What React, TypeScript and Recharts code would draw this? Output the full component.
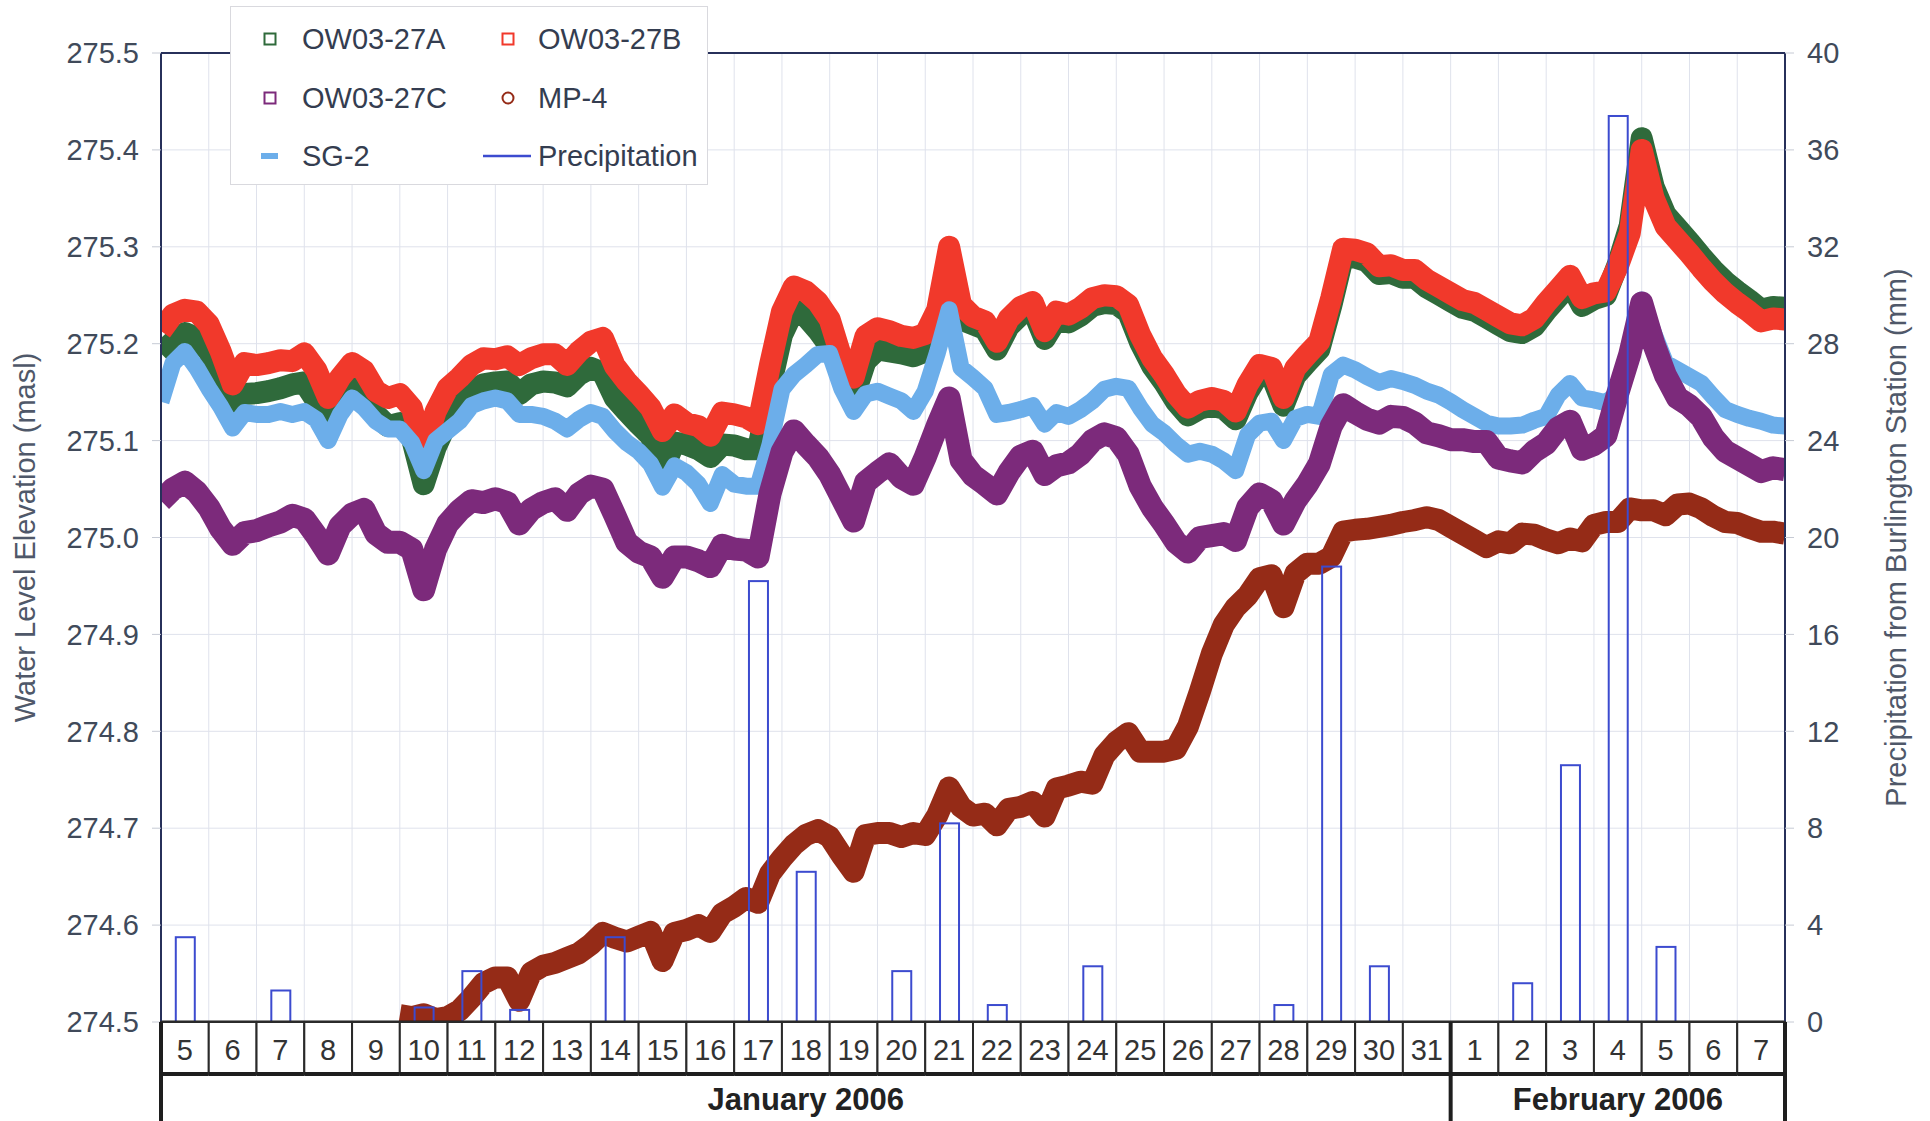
import React from 'react';
import { ComposedChart, Line, Bar, XAxis, YAxis, CartesianGrid, Legend, ReferenceLine } from 'recharts';

// ---------- data ----------
// sample times, days after 5 Jan 2006 00:00
const times = [
  0, 0.25, 0.5, 0.75, 1, 1.25, 1.5, 1.75, 2, 2.25, 2.5, 2.75, 3, 3.25, 3.5, 3.75,
  4, 4.25, 4.5, 4.75, 5, 5.25, 5.5, 5.75, 6, 6.25, 6.5, 6.75, 7, 7.25, 7.5, 7.75,
  8, 8.25, 8.5, 8.75, 9, 9.25, 9.5, 9.75, 10, 10.25, 10.5, 10.75, 11, 11.25, 11.5, 11.75,
  12, 12.25, 12.5, 12.75, 13, 13.25, 13.5, 13.75, 14, 14.25, 14.5, 14.75, 15, 15.25, 15.5, 15.75,
  16, 16.25, 16.5, 16.75, 17, 17.25, 17.5, 17.75, 18, 18.25, 18.5, 18.75, 19, 19.25, 19.5, 19.75,
  20, 20.25, 20.5, 20.75, 21, 21.25, 21.5, 21.75, 22, 22.25, 22.5, 22.75, 23, 23.25, 23.5, 23.75,
  24, 24.25, 24.5, 24.75, 25, 25.25, 25.5, 25.75, 26, 26.25, 26.5, 26.75, 27, 27.25, 27.5, 27.75,
  28, 28.25, 28.5, 28.75, 29, 29.25, 29.5, 29.75, 30, 30.25, 30.5, 30.75, 31, 31.25, 31.5, 31.75,
  32, 32.25, 32.5, 32.75, 33, 33.25, 33.5, 33.75, 34,
];

const ow27A = [
  275.19, 275.202, 275.211, 275.206, 275.192, 275.158, 275.124, 275.148,
  275.149, 275.151, 275.154, 275.158, 275.16, 275.141, 275.113, 275.144,
  275.154, 275.141, 275.127, 275.115, 275.118, 275.103, 275.055, 275.093,
  275.12, 275.137, 275.151, 275.158, 275.16, 275.161, 275.148, 275.158,
  275.161, 275.16, 275.156, 275.168, 275.175, 275.17, 275.144, 275.13,
  275.117, 275.105, 275.069, 275.098, 275.096, 275.091, 275.083, 275.096,
  275.095, 275.091, 275.091, 275.154, 275.209, 275.235, 275.228, 275.214,
  275.197, 275.168, 275.144, 275.182, 275.194, 275.192, 275.19, 275.187,
  275.192, 275.215, 275.265, 275.225, 275.22, 275.215, 275.194, 275.218,
  275.23, 275.235, 275.205, 275.225, 275.222, 275.229, 275.239, 275.242,
  275.241, 275.232, 275.201, 275.177, 275.16, 275.14, 275.126, 275.133,
  275.136, 275.133, 275.122, 275.15, 275.17, 275.167, 275.136, 275.167,
  275.181, 275.194, 275.239, 275.29, 275.289, 275.285, 275.272, 275.273,
  275.268, 275.268, 275.258, 275.251, 275.244, 275.237, 275.234, 275.227,
  275.22, 275.213, 275.211, 275.218, 275.234, 275.248, 275.262, 275.239,
  275.246, 275.25, 275.282, 275.322, 275.412, 275.362, 275.333, 275.319,
  275.305, 275.29, 275.276, 275.264, 275.254, 275.245, 275.235, 275.238,
  275.237,
];

const ow27B = [
  275.213, 275.23, 275.235, 275.233, 275.22, 275.192, 275.158, 275.18,
  275.178, 275.18, 275.183, 275.182, 275.19, 275.173, 275.144, 275.165,
  275.18, 275.172, 275.151, 275.144, 275.148, 275.134, 275.09, 275.13,
  275.154, 275.165, 275.178, 275.185, 275.184, 275.187, 275.178, 275.185,
  275.189, 275.189, 275.178, 275.192, 275.202, 275.206, 275.177, 275.161,
  275.148, 275.134, 275.11, 275.127, 275.118, 275.115, 275.105, 275.129,
  275.127, 275.124, 275.117, 275.178, 275.233, 275.259, 275.254, 275.243,
  275.225, 275.185, 275.165, 275.208, 275.216, 275.213, 275.208, 275.206,
  275.21, 275.235, 275.3, 275.24, 275.228, 275.223, 275.202, 275.226,
  275.238, 275.243, 275.213, 275.233, 275.23, 275.237, 275.247, 275.25,
  275.249, 275.24, 275.209, 275.185, 275.168, 275.148, 275.134, 275.141,
  275.144, 275.141, 275.13, 275.158, 275.178, 275.175, 275.144, 275.175,
  275.189, 275.202, 275.247, 275.298, 275.297, 275.293, 275.28, 275.281,
  275.276, 275.276, 275.266, 275.259, 275.252, 275.245, 275.242, 275.235,
  275.228, 275.221, 275.219, 275.226, 275.242, 275.256, 275.27, 275.247,
  275.252, 275.254, 275.28, 275.314, 275.4, 275.35, 275.321, 275.307,
  275.293, 275.278, 275.264, 275.252, 275.242, 275.233, 275.223, 275.226,
  275.225,
];

const ow27C = [
  275.038, 275.05, 275.057, 275.047, 275.031, 275.009, 274.993, 275.005,
  275.007, 275.012, 275.016, 275.023, 275.019, 275.002, 274.983, 275.012,
  275.024, 275.029, 275.004, 274.995, 274.995, 274.988, 274.946, 274.988,
  275.014, 275.028, 275.038, 275.036, 275.04, 275.036, 275.014, 275.029,
  275.036, 275.04, 275.028, 275.045, 275.053, 275.05, 275.023, 274.995,
  274.985, 274.98, 274.959, 274.98, 274.98, 274.976, 274.97, 274.992,
  274.988, 274.987, 274.98, 275.045, 275.088, 275.11, 275.096, 275.083,
  275.065, 275.041, 275.017, 275.057, 275.067, 275.076, 275.062, 275.055,
  275.083, 275.115, 275.144, 275.08, 275.064, 275.055, 275.045, 275.067,
  275.084, 275.089, 275.065, 275.074, 275.077, 275.086, 275.1, 275.107,
  275.103, 275.086, 275.053, 275.031, 275.014, 274.995, 274.985, 275.0,
  275.002, 275.004, 274.997, 275.031, 275.045, 275.038, 275.014, 275.038,
  275.055, 275.076, 275.115, 275.137, 275.129, 275.122, 275.118, 275.125,
  275.124, 275.118, 275.108, 275.105, 275.101, 275.101, 275.099, 275.099,
  275.082, 275.079, 275.077, 275.089, 275.097, 275.113, 275.12, 275.091,
  275.096, 275.105, 275.149, 275.189, 275.242, 275.2, 275.167, 275.144,
  275.136, 275.124, 275.103, 275.089, 275.082, 275.075, 275.068, 275.072,
  275.07,
];

const mp4 = [
  null, null, null, null, null, null, null, null,
  null, null, null, null, null, null, null, null,
  null, null, null, null, 274.507, 274.505, 274.508, 274.503,
  274.505, 274.512, 274.525, 274.54, 274.546, 274.546, 274.522, 274.551,
  274.558, 274.561, 274.566, 274.571, 274.58, 274.592, 274.587, 274.583,
  274.588, 274.593, 274.563, 274.592, 274.595, 274.6, 274.593, 274.612,
  274.619, 274.628, 274.623, 274.653, 274.669, 274.683, 274.693, 274.698,
  274.691, 274.672, 274.655, 274.693, 274.695, 274.695, 274.691, 274.695,
  274.693, 274.713, 274.742, 274.722, 274.713, 274.715, 274.703, 274.72,
  274.722, 274.727, 274.712, 274.741, 274.744, 274.748, 274.746, 274.775,
  274.789, 274.798, 274.779, 274.779, 274.779, 274.782, 274.805, 274.841,
  274.88, 274.91, 274.928, 274.94, 274.958, 274.961, 274.928, 274.963,
  274.973, 274.973, 274.98, 275.006, 275.008, 275.009, 275.011, 275.013,
  275.016, 275.018, 275.021, 275.018, 275.011, 275.004, 274.997, 274.99,
  274.996, 274.994, 275.004, 275.003, 274.998, 274.994, 274.999, 274.996,
  275.013, 275.016, 275.016, 275.03, 275.028, 275.028, 275.023, 275.034,
  275.035, 275.03, 275.022, 275.016, 275.015, 275.01, 275.006, 275.006,
  275.004,
];

const sg2 = [
  275.14, 275.18, 275.192, 275.175, 275.154, 275.135, 275.113, 275.129,
  275.127, 275.127, 275.13, 275.127, 275.13, 275.122, 275.1, 275.127,
  275.144, 275.134, 275.12, 275.112, 275.112, 275.098, 275.069, 275.1,
  275.11, 275.12, 275.136, 275.141, 275.144, 275.141, 275.127, 275.127,
  275.125, 275.12, 275.112, 275.122, 275.129, 275.125, 275.11, 275.098,
  275.089, 275.076, 275.052, 275.074, 275.067, 275.055, 275.035, 275.065,
  275.055, 275.053, 275.053, 275.096, 275.153, 275.168, 275.178, 275.189,
  275.19, 275.154, 275.13, 275.148, 275.151, 275.146, 275.141, 275.13,
  275.151, 275.19, 275.235, 275.175, 275.165, 275.154, 275.127, 275.129,
  275.132, 275.136, 275.117, 275.129, 275.125, 275.132, 275.141, 275.153,
  275.156, 275.154, 275.134, 275.117, 275.108, 275.096, 275.086, 275.089,
  275.086, 275.079, 275.069, 275.106, 275.118, 275.12, 275.1, 275.123,
  275.127, 275.125, 275.168, 275.178, 275.173, 275.166, 275.16, 275.164,
  275.161, 275.157, 275.151, 275.147, 275.14, 275.132, 275.125, 275.118,
  275.115, 275.115, 275.116, 275.121, 275.125, 275.147, 275.159, 275.144,
  275.142, 275.139, 275.149, 275.18, 275.245, 275.211, 275.18, 275.173,
  275.166, 275.159, 275.145, 275.132, 275.127, 275.123, 275.12, 275.116,
  275.115,
];

// daily precipitation (mm), Burlington Station; day index after 5 Jan
const precipDay = [0, 2, 5, 6, 7, 9, 12, 13, 15, 16, 17, 19, 23, 24, 25, 28, 29, 30, 31];
const precipMm = [3.5, 1.3, 0.6, 2.1, 0.5, 3.5, 18.2, 6.2, 2.1, 8.2, 0.7, 2.3, 0.7, 18.8, 2.3, 1.6, 10.6, 37.4, 3.1];

const dayLabels = [
  '5', '6', '7', '8', '9', '10', '11', '12', '13', '14', '15', '16', '17', '18', '19', '20',
  '21', '22', '23', '24', '25', '26', '27', '28', '29', '30', '31',
  '1', '2', '3', '4', '5', '6', '7',
];
const dayTicks = [0, 1, 2, 3, 4, 5, 6, 7, 8, 9, 10, 11, 12, 13, 14, 15, 16, 17, 18, 19, 20, 21, 22, 23, 24, 25, 26, 27, 28, 29, 30, 31, 32, 33];
const months = [
  { label: 'January 2006', first: 0, last: 26 },
  { label: 'February 2006', first: 27, last: 33 },
];
const leftTicks = [274.5, 274.6, 274.7, 274.8, 274.9, 275.0, 275.1, 275.2, 275.3, 275.4, 275.5];
const rightTicks = [0, 4, 8, 12, 16, 20, 24, 28, 32, 36, 40];

const rows = times.map((t, i) => {
  const k = precipDay.findIndex((d) => d + 0.5 === t);
  return {
    t,
    A: ow27A[i],
    B: ow27B[i],
    C: ow27C[i],
    MP4: mp4[i],
    SG2: sg2[i],
    P: k >= 0 ? precipMm[k] : null,
  };
});

// ---------- styles ----------
const FONT = '"Liberation Sans", Arial, Helvetica, sans-serif';
const COL_A = '#2f6a3b';
const COL_B = '#f1392b';
const COL_C = '#7c2a7b';
const COL_MP = '#952b17';
const COL_SG = '#6caeea';
const COL_P = '#3c4bcf';
const AXIS_COL = '#27305a';
const TEXT_COL = '#404a5a';

const PLOT_LEFT = 161;
const PLOT_RIGHT = 1785;
const DAY_W = (PLOT_RIGHT - PLOT_LEFT) / 34;
const DAY_ROW_H = 52;
const XAXIS_H = 111;
const BAR_W = 19;

const DayTick = (props: any) => {
  const { x, y, payload } = props;
  const idx = Number(payload.value);
  const label = dayLabels[idx];
  const month = months.find((m) => idx >= m.first && idx <= m.last);
  const mid = month ? (month.first + month.last + 1) / 2 : -1;
  const showMonth = month && Math.floor(mid - 0.5) === idx;
  const isMonthStart = month && month.first === idx;
  const isLast = idx === dayLabels.length - 1;
  return (
    <g>
      <rect x={x} y={y} width={DAY_W} height={DAY_ROW_H} fill="#ffffff" stroke="#2a2a2a" strokeWidth={2} />
      <text
        x={x + DAY_W / 2}
        y={y + 28}
        textAnchor="middle"
        dominantBaseline="central"
        fontSize={29}
        fontFamily={FONT}
        fill="#333333"
      >
        {label}
      </text>
      <line x1={x} x2={x + DAY_W} y1={y + DAY_ROW_H} y2={y + DAY_ROW_H} stroke="#1e1e1e" strokeWidth={4} />
      {isMonthStart && <line x1={x} x2={x} y1={y} y2={y + XAXIS_H} stroke="#1e1e1e" strokeWidth={4} />}
      {isLast && <line x1={x + DAY_W} x2={x + DAY_W} y1={y} y2={y + XAXIS_H} stroke="#1e1e1e" strokeWidth={4} />}
      {showMonth && month && (
        <text
          x={x + DAY_W / 2 + (mid - idx - 0.5) * DAY_W}
          y={y + 77}
          textAnchor="middle"
          dominantBaseline="central"
          fontSize={31}
          fontWeight="bold"
          fontFamily={FONT}
          fill="#222222"
        >
          {month.label}
        </text>
      )}
    </g>
  );
};

// precipitation bar: keeps the library's x/y/height, draws a fixed-width outlined column
const PrecipBar = (p: any) => {
  if (!p || !p.height || p.height <= 0) return <g />;
  const cx = p.x + p.width / 2;
  return (
    <rect x={cx - BAR_W / 2} y={p.y} width={BAR_W} height={p.height} fill="none" stroke={COL_P} strokeWidth={2} />
  );
};

const legendItems = [
  { name: 'OW03-27A', color: COL_A, shape: 'square' },
  { name: 'OW03-27B', color: COL_B, shape: 'square' },
  { name: 'OW03-27C', color: COL_C, shape: 'square' },
  { name: 'MP-4', color: COL_MP, shape: 'circle' },
  { name: 'SG-2', color: COL_SG, shape: 'dash' },
  { name: 'Precipitation', color: COL_P, shape: 'line' },
];

const LegendBox = () => (
  <div
    style={{
      position: 'relative',
      width: 478,
      height: 179,
      background: '#ffffff',
      border: '1px solid #d9d9de',
      boxSizing: 'border-box',
      fontFamily: FONT,
    }}
  >
    {legendItems.map((it, i) => {
      const col = i % 2;
      const row = Math.floor(i / 2);
      const cy = [32, 91, 149][row];
      const mx = col === 0 ? 39 : 277;
      const tx = col === 0 ? 71 : 307;
      return (
        <React.Fragment key={it.name}>
          <svg style={{ position: 'absolute', left: 0, top: 0, overflow: 'visible' }} width={1} height={1}>
            {it.shape === 'square' && (
              <rect x={mx - 5.5} y={cy - 5.5} width={11} height={11} fill="none" stroke={it.color} strokeWidth={2} />
            )}
            {it.shape === 'circle' && <circle cx={mx} cy={cy} r={5.5} fill="none" stroke={it.color} strokeWidth={2} />}
            {it.shape === 'dash' && <rect x={mx - 9} y={cy - 3} width={17} height={6} fill={it.color} />}
            {it.shape === 'line' && <line x1={252} x2={300} y1={cy} y2={cy} stroke={it.color} strokeWidth={2.5} />}
          </svg>
          <div
            style={{
              position: 'absolute',
              left: tx,
              top: cy - 17,
              height: 34,
              lineHeight: '34px',
              fontSize: 29,
              color: '#343d50',
              whiteSpace: 'nowrap',
            }}
          >
            {it.name}
          </div>
        </React.Fragment>
      );
    })}
  </div>
);

export default function App() {
  return (
    <div
      style={{
        position: 'absolute',
        left: 0,
        top: 0,
        width: 1930,
        height: 1121,
        overflow: 'hidden',
        background: '#ffffff',
        fontFamily: FONT,
      }}
    >
      <ComposedChart width={1930} height={1133} data={rows} margin={{ top: 53, right: 0, bottom: 0, left: 0 }}>
        <CartesianGrid yAxisId="left" stroke="#dfe2ec" strokeWidth={1} />
        <XAxis
          dataKey="t"
          type="number"
          domain={[0, 34]}
          ticks={dayTicks}
          interval={0}
          allowDataOverflow
          height={XAXIS_H}
          tickSize={0}
          tickMargin={0}
          tickLine={false}
          axisLine={{ stroke: '#1e1e1e', strokeWidth: 3 }}
          tick={(p: any) => <DayTick {...p} />}
        />
        <YAxis
          yAxisId="left"
          type="number"
          width={PLOT_LEFT}
          domain={[274.5, 275.5]}
          ticks={leftTicks}
          interval={0}
          allowDataOverflow
          tickFormatter={(v: number) => v.toFixed(1)}
          tick={{ fill: TEXT_COL, fontSize: 29, fontFamily: FONT }}
          tickLine={{ stroke: '#c6cad4' }}
          tickSize={9}
          tickMargin={13}
          axisLine={{ stroke: AXIS_COL, strokeWidth: 2 }}
          label={{
            value: 'Water Level Elevation (masl)',
            angle: -90,
            position: 'insideLeft',
            offset: 25,
            style: { textAnchor: 'middle', fill: '#4f5869', fontSize: 29, fontFamily: FONT },
          }}
        />
        <YAxis
          yAxisId="right"
          orientation="right"
          type="number"
          width={1930 - PLOT_RIGHT}
          domain={[0, 40]}
          ticks={rightTicks}
          interval={0}
          allowDataOverflow
          tick={{ fill: TEXT_COL, fontSize: 29, fontFamily: FONT }}
          tickLine={{ stroke: '#c6cad4' }}
          tickSize={9}
          tickMargin={13}
          axisLine={{ stroke: AXIS_COL, strokeWidth: 2 }}
          label={{
            value: 'Precipitation from Burlington Station (mm)',
            angle: -90,
            position: 'insideRight',
            offset: 34,
            style: { textAnchor: 'middle', fill: '#4f5869', fontSize: 29, fontFamily: FONT },
          }}
        />
        <ReferenceLine yAxisId="left" y={275.5} stroke={AXIS_COL} strokeWidth={2} />
        <Line yAxisId="left" dataKey="A" name="OW03-27A" type="linear" stroke={COL_A} strokeWidth={22} strokeLinejoin="round" dot={false} isAnimationActive={false} />
        <Line yAxisId="left" dataKey="B" name="OW03-27B" type="linear" stroke={COL_B} strokeWidth={22} strokeLinejoin="round" dot={false} isAnimationActive={false} />
        <Line yAxisId="left" dataKey="SG2" name="SG-2" type="linear" stroke={COL_SG} strokeWidth={17} strokeLinejoin="round" dot={false} isAnimationActive={false} />
        <Line yAxisId="left" dataKey="C" name="OW03-27C" type="linear" stroke={COL_C} strokeWidth={23} strokeLinejoin="round" dot={false} isAnimationActive={false} />
        <Line yAxisId="left" dataKey="MP4" name="MP-4" type="linear" stroke={COL_MP} strokeWidth={22} strokeLinejoin="round" dot={false} isAnimationActive={false} />
        <Bar
          yAxisId="right"
          dataKey="P"
          name="Precipitation"
          barSize={BAR_W}
          fill="none"
          stroke={COL_P}
          strokeWidth={2}
          shape={(p: any) => <PrecipBar {...p} />}
          isAnimationActive={false}
          zIndex={450}
        />
        <Legend
          verticalAlign="middle"
          layout="horizontal"
          content={() => <LegendBox />}
          wrapperStyle={{ left: 230, top: 6, width: 478, height: 179 }}
        />
      </ComposedChart>
    </div>
  );
}
